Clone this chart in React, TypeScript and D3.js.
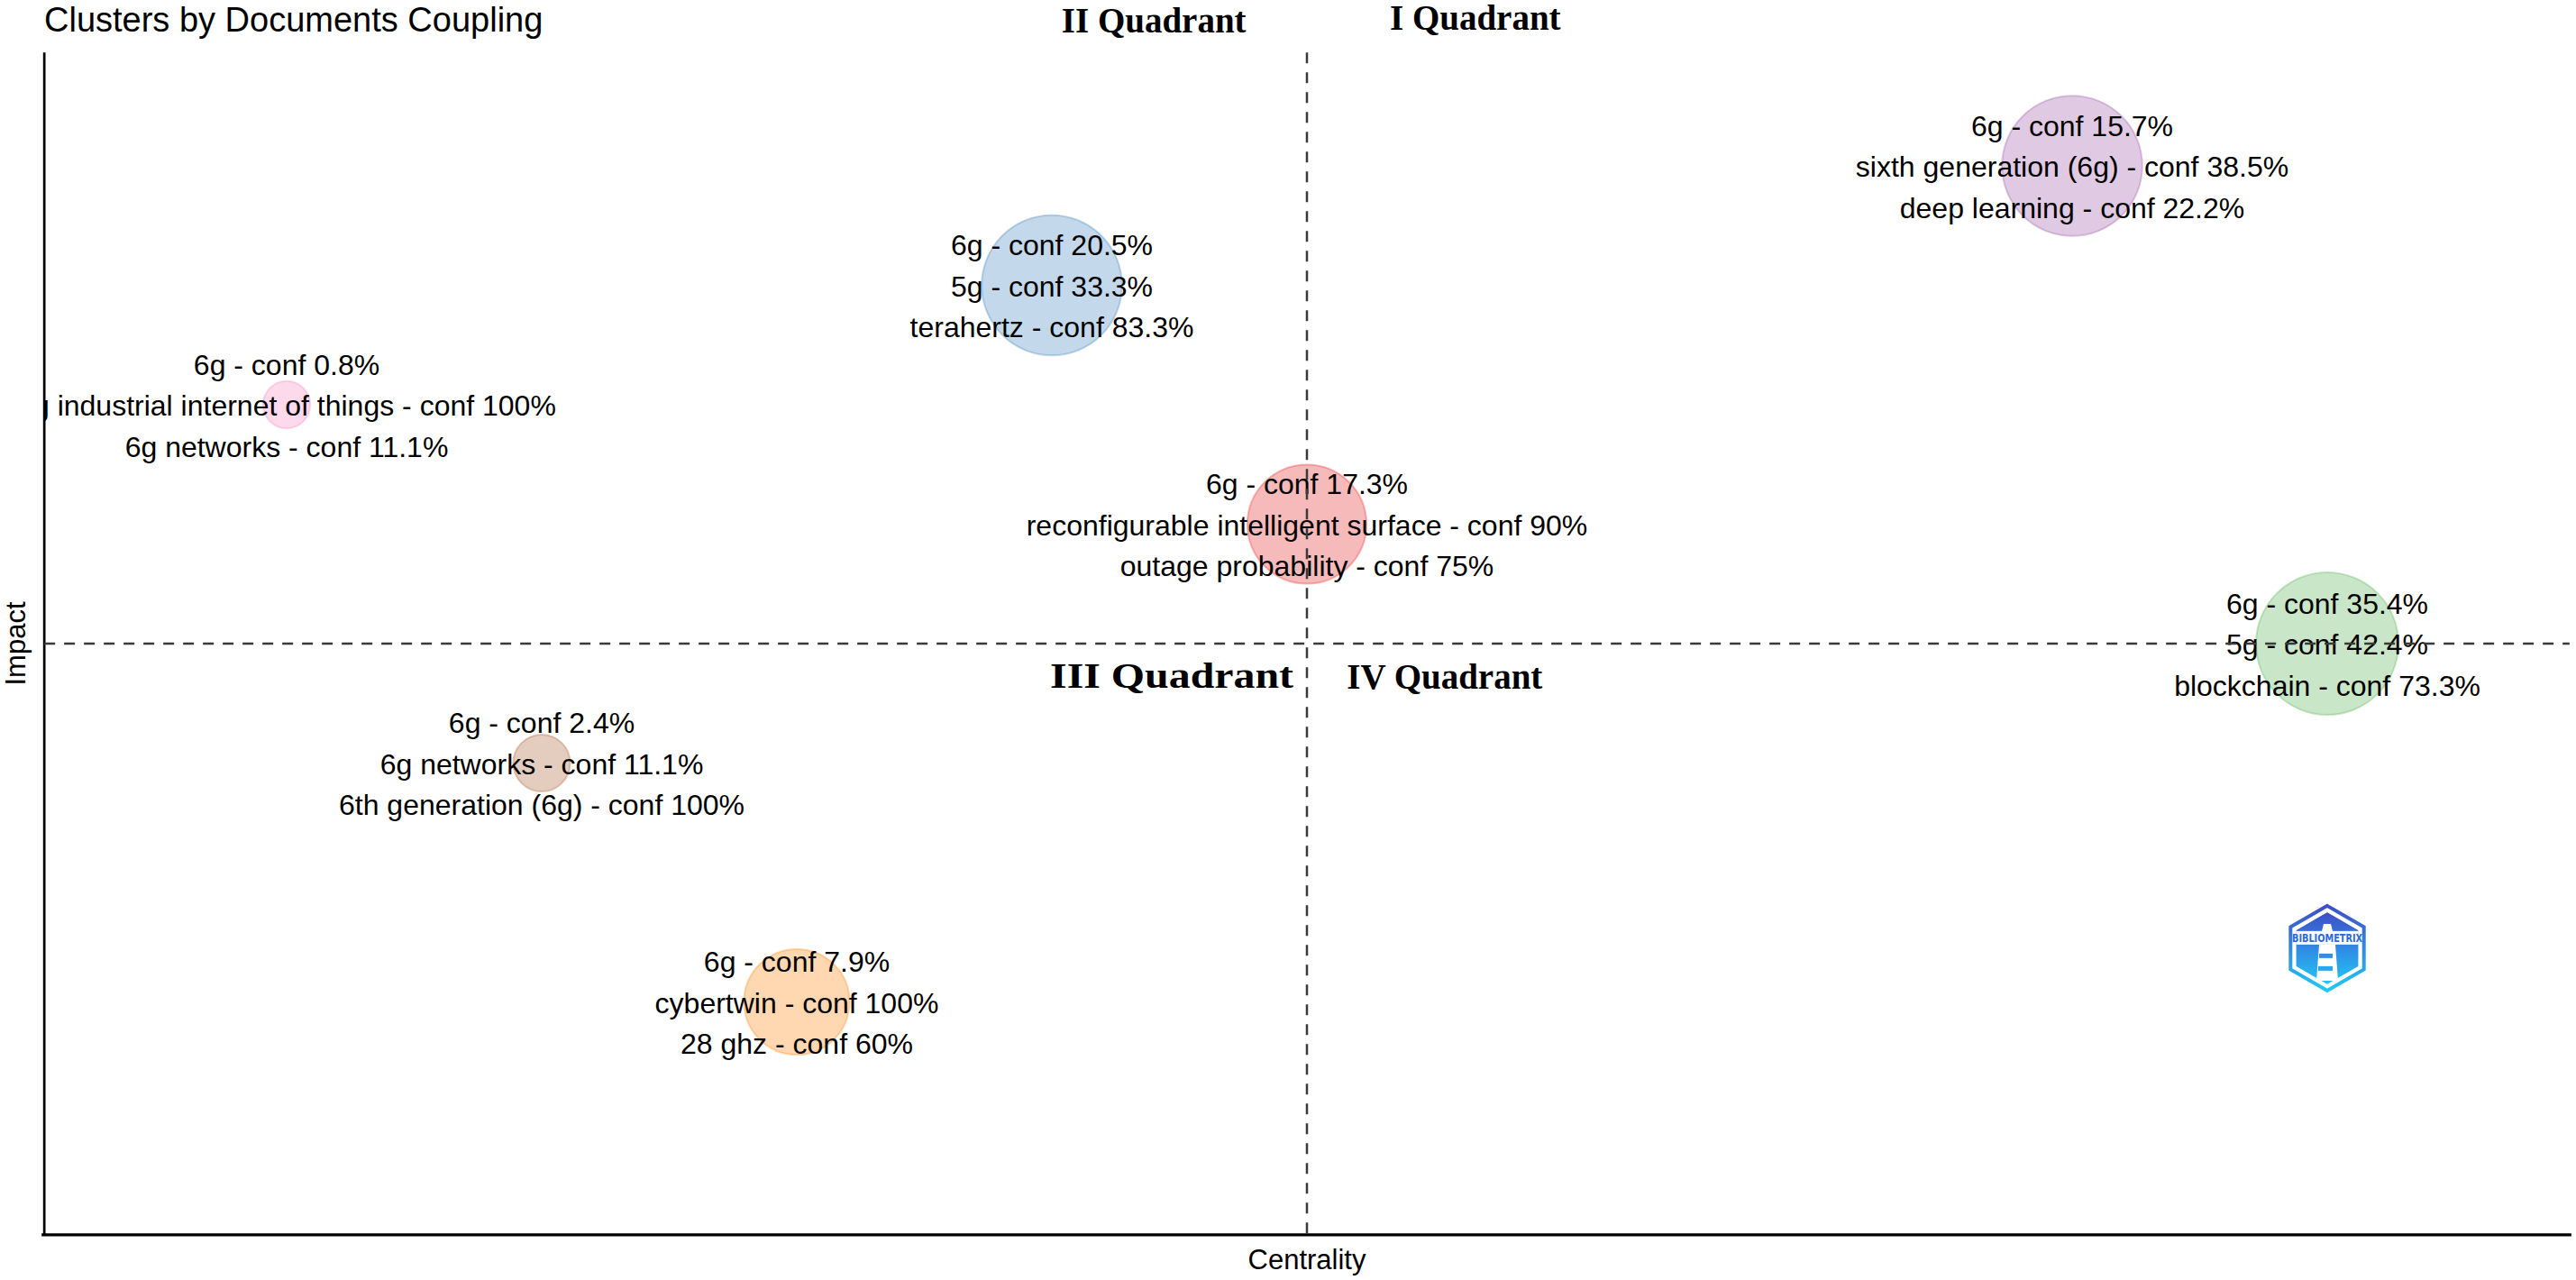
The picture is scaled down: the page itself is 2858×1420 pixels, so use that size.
import React, { useRef, useEffect } from 'react'
import * as d3 from 'd3'

// cluster data (centrality / impact in plot units, frequency drives bubble size)
const clusterCentrality = [5, 4, 9, 8, 3, 2, 1]
const clusterImpact = [6, 8, 5, 9, 2, 4, 7]
const clusterFrequency = [70, 97, 100, 97, 55, 16, 11]
const clusterLabels = [
  ['6g - conf 17.3%', 'reconfigurable intelligent surface - conf 90%', 'outage probability - conf 75%'],
  ['6g - conf 20.5%', '5g - conf 33.3%', 'terahertz - conf 83.3%'],
  ['6g - conf 35.4%', '5g - conf 42.4%', 'blockchain - conf 73.3%'],
  ['6g - conf 15.7%', 'sixth generation (6g) - conf 38.5%', 'deep learning - conf 22.2%'],
  ['6g - conf 7.9%', 'cybertwin - conf 100%', '28 ghz - conf 60%'],
  ['6g - conf 2.4%', '6g networks - conf 11.1%', '6th generation (6g) - conf 100%'],
  ['6g - conf 0.8%', '6g industrial internet of things - conf 100%', '6g networks - conf 11.1%']
]

const quadrantNames = ['I Quadrant', 'II Quadrant', 'III Quadrant', 'IV Quadrant']
const quadrantCentrality = [5.66, 4.4, 4.47, 5.54]
const quadrantImpact = [10.14, 10.12, 4.63, 4.62]

const meanCentrality = 5
const meanImpact = 5

const palette = ['#E41A1C', '#377EB8', '#4DAF4A', '#984EA3', '#FF7F00', '#A65628', '#F781BF']

const W = 2858
const H = 1420

const App = () => {
  const node = useRef<SVGSVGElement | null>(null)

  useEffect(() => {
    document.body.style.margin = '0'
    document.body.style.overflow = 'hidden'

    const svg = d3.select(node.current)
    svg.selectAll('*').remove()
    svg.attr('width', W).attr('height', H).style('display', 'block')

    const x = d3.scaleLinear().domain([0, 10]).range([35, 2865])
    const y = d3.scaleLinear().domain([0, 10]).range([1376.5, 51.5])
    const r = d3.scaleSqrt().domain([0, 100]).range([0, 79])
    const color = d3.scaleOrdinal<number, string>().domain(d3.range(palette.length)).range(palette)

    const x0 = x(0.05)
    const x1 = x(9.95)
    const y0 = y(0.05)
    const y1 = y(9.95)

    const defs = svg.append('defs')
    defs
      .append('clipPath')
      .attr('id', 'plot-clip')
      .append('rect')
      .attr('x', x0)
      .attr('y', y1)
      .attr('width', W - x0)
      .attr('height', y0 - y1)

    const grad = defs
      .append('linearGradient')
      .attr('id', 'logo-grad')
      .attr('x1', 0)
      .attr('y1', 0)
      .attr('x2', 0)
      .attr('y2', 1)
    grad.append('stop').attr('offset', '0%').attr('stop-color', '#3f4fc6')
    grad.append('stop').attr('offset', '55%').attr('stop-color', '#2f8fe6')
    grad.append('stop').attr('offset', '100%').attr('stop-color', '#22c8f4')

    svg
      .append('text')
      .attr('x', 49)
      .attr('y', 35)
      .attr('font-family', 'Liberation Sans, Arial, sans-serif')
      .attr('font-size', 38)
      .attr('fill', '#000')
      .text('Clusters by Documents Coupling')

    const plot = svg.append('g').attr('clip-path', 'url(#plot-clip)')

    const idx = d3.range(clusterCentrality.length)

    plot
      .selectAll('circle.bubble')
      .data(idx)
      .join('circle')
      .attr('class', 'bubble')
      .attr('cx', (i) => x(clusterCentrality[i]))
      .attr('cy', (i) => y(clusterImpact[i]))
      .attr('r', (i) => r(clusterFrequency[i]))
      .attr('fill', (i) => color(i))
      .attr('fill-opacity', 0.3)
      .attr('stroke', (i) => color(i))
      .attr('stroke-opacity', 0.3)
      .attr('stroke-width', 2)

    idx.forEach((i) => {
      const cx = x(clusterCentrality[i])
      const cy = y(clusterImpact[i])
      plot
        .append('g')
        .selectAll('text')
        .data(clusterLabels[i])
        .join('text')
        .attr('x', cx)
        .attr('y', (d, k) => cy + 1 + (k - 1) * 45.5)
        .attr('dy', '0.35em')
        .attr('text-anchor', 'middle')
        .attr('font-family', 'Liberation Sans, Arial, sans-serif')
        .attr('font-size', 32)
        .attr('fill', '#000')
        .text((d) => d)
    })

    // bibliometrix logo
    const lx = x(9)
    const ly = y(2.45)
    const hex = (R: number) =>
      d3.range(6).map((k) => {
        const a = -Math.PI / 2 + (k * Math.PI) / 3
        return [lx + R * Math.cos(a), ly + R * Math.sin(a)]
      })
    const hexPath = (R: number) => 'M' + hex(R).map((p) => p.join(',')).join('L') + 'Z'
    const logo = svg.append('g')
    logo.append('path').attr('d', hexPath(47)).attr('fill', '#fff').attr('stroke', 'url(#logo-grad)').attr('stroke-width', 4)
    defs.append('clipPath').attr('id', 'hex-clip').append('path').attr('d', hexPath(40))
    const inner = logo.append('g').attr('clip-path', 'url(#hex-clip)')
    inner.append('path').attr('d', hexPath(40)).attr('fill', 'url(#logo-grad)')
    inner
      .append('rect')
      .attr('x', lx - 50)
      .attr('y', ly - 19)
      .attr('width', 100)
      .attr('height', 15)
      .attr('fill', '#fff')
    logo
      .append('path')
      .attr('d', `M${lx - 4},${ly - 27}L${lx + 4},${ly - 27}L${lx + 6},${ly - 19}L${lx - 6},${ly - 19}Z`)
      .attr('fill', '#fff')
    logo
      .append('path')
      .attr('d', `M${lx - 9},${ly - 4}L${lx + 9},${ly - 4}L${lx + 12},${ly + 36}L${lx - 12},${ly + 36}Z`)
      .attr('fill', '#fff')
    logo
      .append('rect')
      .attr('x', lx - 9)
      .attr('y', ly + 6)
      .attr('width', 15)
      .attr('height', 5)
      .attr('fill', '#2f8fe6')
    logo
      .append('rect')
      .attr('x', lx - 10)
      .attr('y', ly + 20)
      .attr('width', 16)
      .attr('height', 5)
      .attr('fill', '#2aa6ec')
    logo
      .append('text')
      .attr('x', lx)
      .attr('y', ly - 7)
      .attr('text-anchor', 'middle')
      .attr('font-family', 'DejaVu Sans, sans-serif')
      .attr('font-weight', 'bold')
      .attr('font-size', 12)
      .attr('textLength', 78)
      .attr('lengthAdjust', 'spacingAndGlyphs')
      .attr('fill', '#2b6ad8')
      .text('BIBLIOMETRIX')

    // axes lines
    svg
      .append('line')
      .attr('x1', x0)
      .attr('x2', x0)
      .attr('y1', y1)
      .attr('y2', y0)
      .attr('stroke', '#000')
      .attr('stroke-width', 2.7)
    svg
      .append('line')
      .attr('x1', x0 - 3)
      .attr('x2', x1 + 2)
      .attr('y1', y0)
      .attr('y2', y0)
      .attr('stroke', '#000')
      .attr('stroke-width', 3.3)

    // mean lines
    svg
      .append('line')
      .attr('x1', x0)
      .attr('x2', x1)
      .attr('y1', y(meanImpact))
      .attr('y2', y(meanImpact))
      .attr('stroke', '#3a3a3a')
      .attr('stroke-width', 2.5)
      .attr('stroke-dasharray', '12 10')
    svg
      .append('line')
      .attr('x1', x(meanCentrality))
      .attr('x2', x(meanCentrality))
      .attr('y1', y1)
      .attr('y2', y0)
      .attr('stroke', '#3a3a3a')
      .attr('stroke-width', 2.5)
      .attr('stroke-dasharray', '12 10')

    svg
      .append('g')
      .selectAll('text')
      .data(quadrantNames)
      .join('text')
      .attr('x', (d, i) => x(quadrantCentrality[i]))
      .attr('y', (d, i) => y(quadrantImpact[i]))
      .attr('text-anchor', 'middle')
      .attr('font-family', 'Liberation Serif, Times New Roman, serif')
      .attr('font-weight', 'bold')
      .attr('font-size', 39)
      .attr('fill', '#000')
      .each(function (d) {
        if (d === 'III Quadrant') {
          d3.select(this).attr('textLength', 270).attr('lengthAdjust', 'spacingAndGlyphs')
        }
      })
      .text((d) => d)

    svg
      .append('text')
      .attr('x', x(meanCentrality))
      .attr('y', 1408)
      .attr('text-anchor', 'middle')
      .attr('font-family', 'Liberation Sans, Arial, sans-serif')
      .attr('font-size', 31)
      .attr('fill', '#000')
      .text('Centrality')

    svg
      .append('text')
      .attr('transform', `translate(28,${y(meanImpact)}) rotate(-90)`)
      .attr('text-anchor', 'middle')
      .attr('font-family', 'Liberation Sans, Arial, sans-serif')
      .attr('font-size', 31)
      .attr('fill', '#000')
      .text('Impact')
  }, [])

  return <svg ref={node}></svg>
}

export default App
